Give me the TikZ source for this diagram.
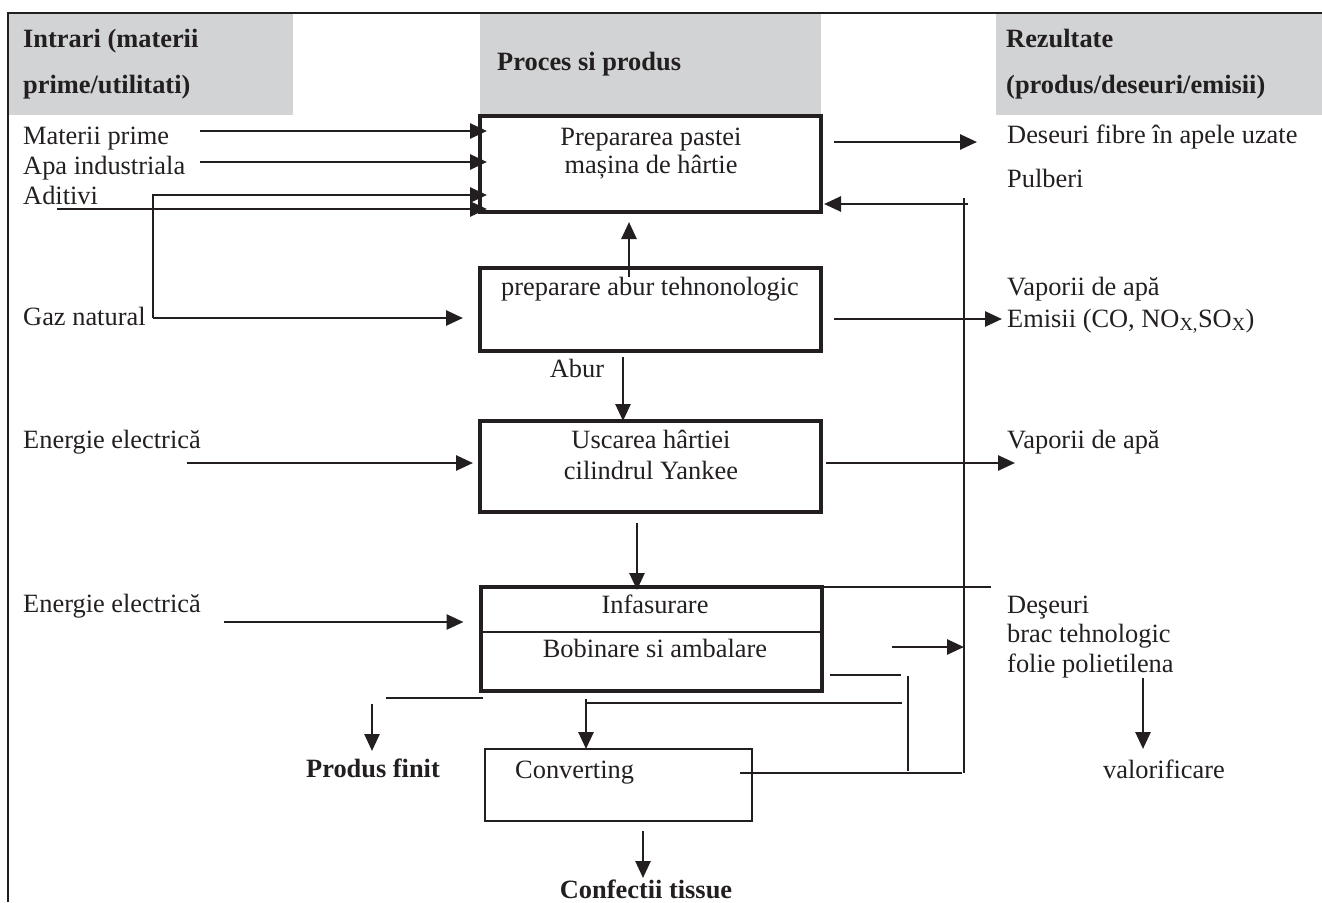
\documentclass[tikz,border=0pt]{standalone}
\usepackage{fontspec}
\setmainfont{Liberation Serif}
\usetikzlibrary{arrows.meta,calc}
\definecolor{ink}{HTML}{231F20}
\definecolor{hdr}{HTML}{D1D3D4}
\begin{document}
\begin{tikzpicture}[x=1pt,y=-1pt,
  every node/.style={text=ink,font=\fontsize{26.4}{31}\selectfont},
  lbl/.style={anchor=base west,inner sep=0pt},
  clbl/.style={anchor=base,inner sep=0pt},
  hb/.style={lbl,font=\fontsize{26.4}{31}\selectfont\bfseries},
  hbc/.style={clbl,font=\fontsize{26.4}{31}\selectfont\bfseries},
  hd/.style={fill=hdr,draw=none,inner sep=0pt,anchor=north west},
  pbox/.style={draw=ink,line width=4pt,inner sep=0pt,outer sep=0pt},
  cbox/.style={draw=ink,line width=2pt,inner sep=0pt,outer sep=0pt},
  arr/.style={draw=ink,line width=2.7pt,-{Triangle[length=17pt,width=15pt]}},
  ln/.style={draw=ink,line width=2pt},
  thinln/.style={draw=ink,line width=1.7pt}]
\useasboundingbox (0,0) rectangle (1322,902);
% header bands
\node[hd,minimum width=285pt,minimum height=101pt] (h1) at (8,14) {};
\node[hd,minimum width=341pt,minimum height=102pt] (h2) at (480,14) {};
\node[hd,minimum width=326pt,minimum height=101pt] (h3) at (996,14) {};
% frame
\coordinate (fbl) at (8,902);
\coordinate (ftl) at (8,13);
\coordinate (ftr) at (1322,13);
\draw[thinln] (fbl) -- (ftl) -- (ftr);
% header texts
\node[hb] (hi1) at (23,47) {Intrari (materii};
\node[hb] (hi2) at (23,93) {prime/utilitati)};
\node[hb] (hp) at (497,70) {Proces si produs};
\node[hb] (hr1) at (1006,47) {Rezultate};
\node[hb] (hr2) at (1006,93) {(produs/deseuri/emisii)};
% process boxes
\node[pbox,minimum width=341pt,minimum height=96pt] (b1) at (650.5,164) {};
\node[pbox,minimum width=341pt,minimum height=83pt] (b2) at (650.5,309.5) {};
\node[pbox,minimum width=341pt,minimum height=91pt] (b3) at (650.5,466.5) {};
\node[pbox,minimum width=341pt,minimum height=104pt] (b4) at (651,639) {};
\node[cbox,minimum width=267pt,minimum height=72pt] (cv) at (618.5,785) {};
\coordinate (dv) at (0,632);
\draw[ln] (dv -| b4.west) -- (dv -| b4.east);
% box texts
\node[clbl] (t1a) at (651,145) {Prepararea pastei};
\node[clbl] (t1b) at (651,173) {mașina de hârtie};
\node[clbl] (t2) at (650,295) {preparare abur tehnonologic};
\node[clbl] (tab) at (577,377) {Abur};
\node[clbl] (t3a) at (651,448) {Uscarea hârtiei};
\node[clbl] (t3b) at (651,479) {cilindrul Yankee};
\node[clbl] (t4a) at (655,613) {Infasurare};
\node[clbl] (t4b) at (655,657) {Bobinare si ambalare};
\node[lbl] (tcv) at (515,778) {Converting};
\node[hbc] (tpf) at (373,777) {Produs finit};
\node[hbc] (tct) at (646,898) {Confectii tissue};
% left texts
\node[lbl] (lmp) at (23,144) {Materii prime};
\node[lbl] (lap) at (23,174) {Apa industriala};
\node[lbl] (lad) at (23,204) {Aditivi};
\node[lbl] (lgz) at (23,325) {Gaz natural};
\node[lbl] (le1) at (23,448) {Energie electrică};
\node[lbl] (le2) at (23,612) {Energie electrică};
% right texts
\node[lbl] (rdf) at (1007,143) {Deseuri fibre în apele uzate};
\node[lbl] (rpu) at (1007,187) {Pulberi};
\node[lbl] (rva) at (1007,295) {Vaporii de apă};
\node[lbl] (rem) at (1007,327) {Emisii (CO, NO\textsubscript{X,}SO\textsubscript{X})};
\node[lbl] (rvb) at (1007,448) {Vaporii de apă};
\node[lbl] (rd1) at (1007,613) {Deşeuri};
\node[lbl] (rd2) at (1007,642) {brac tehnologic};
\node[lbl] (rd3) at (1007,672) {folie polietilena};
\node[clbl] (rvl) at (1164,778) {valorificare};
% left inputs
\coordinate (cmp) at (200,131);
\coordinate (cap) at (200,162);
\coordinate (cad) at (57,209);
\coordinate (cgz) at (153,318);
\coordinate (cgzu) at (153,195);
\coordinate (ce1) at (187,463);
\coordinate (ce2) at (224,622);
\draw[arr] (cmp) -- ($(cmp -| b1.west)+(7,0)$);
\draw[arr] (cap) -- ($(cap -| b1.west)+(7,0)$);
\draw[arr] (cad) -- ($(cad -| b1.west)+(7,0)$);
\draw[arr] (cgz) -- (cgzu) -- ($(cgzu -| b1.west)+(7,0)$);
\draw[arr] (cgz) -- ($(cgz -| b2.west)+(-17,0)$);
\draw[arr] (ce1) -- ($(ce1 -| b3.west)+(-7,0)$);
\draw[arr] (ce2) -- ($(ce2 -| b4.west)+(-17,0)$);
% vertical flow
\coordinate (c21) at (629,277);
\draw[arr] (c21) -- ($(c21 |- b1.south)+(0,10)$);
\coordinate (cab) at (623,357);
\draw[arr] (cab) -- (cab |- b3.north);
\coordinate (c34) at (637,523);
\draw[arr] (c34) -- ($(c34 |- b4.north)+(0,3)$);
\coordinate (c4cr) at (902,703);
\coordinate (c4cc) at (586,703);
\coordinate (c4ct) at (586,699);
\draw[thinln] (c4cr) -- (c4cc);
\draw[arr] (c4ct) -- (c4ct |- cv.north);
\coordinate (cpfr) at (483,698);
\coordinate (cpfl) at (386,698);
\draw[thinln] (cpfr) -- (cpfl);
\coordinate (cpfa) at (372,704);
\coordinate (cpfb) at (372,751);
\draw[arr] (cpfa) -- (cpfb);
\coordinate (cct) at (643,831);
\coordinate (cctb) at (643,878);
\draw[arr] (cct) -- (cctb);
% right outputs
\coordinate (co1) at (834,142);
\draw[arr] (co1) -- ($(co1 -| rdf.west)+(-30,0)$);
\coordinate (vtop) at (964,198);
\coordinate (vbot) at (964,773);
\draw[thinln] (vtop) -- (vbot);
\coordinate (cret) at (968,204);
\draw[arr] (cret) -- ($(cret -| b1.east)+(3,0)$);
\coordinate (co2) at (834,319);
\draw[arr] (co2) -- ($(co2 -| rem.west)+(-5,0)$);
\coordinate (co3) at (826,463);
\draw[arr] (co3) -- ($(co3 -| rvb.west)+(8,0)$);
\coordinate (ctop) at (991,587);
\draw[thinln] (ctop -| b4.east) -- (ctop);
\coordinate (cdw) at (892,647);
\draw[arr] (cdw) -- (cdw -| vtop);
\coordinate (cs1) at (830,675);
\coordinate (cs2) at (901,675);
\draw[thinln] (cs1) -- (cs2);
\coordinate (cs3) at (908,676);
\coordinate (cs4) at (908,771);
\draw[thinln] (cs3) -- (cs4);
\coordinate (cvl) at (740,773);
\draw[thinln] (cvl) -- ($(cvl -| vbot)+(-2,0)$);
\coordinate (cvz) at (1143,678);
\coordinate (cvzb) at (1143,749);
\draw[arr] (cvz) -- (cvzb);
\end{tikzpicture}
\end{document}
